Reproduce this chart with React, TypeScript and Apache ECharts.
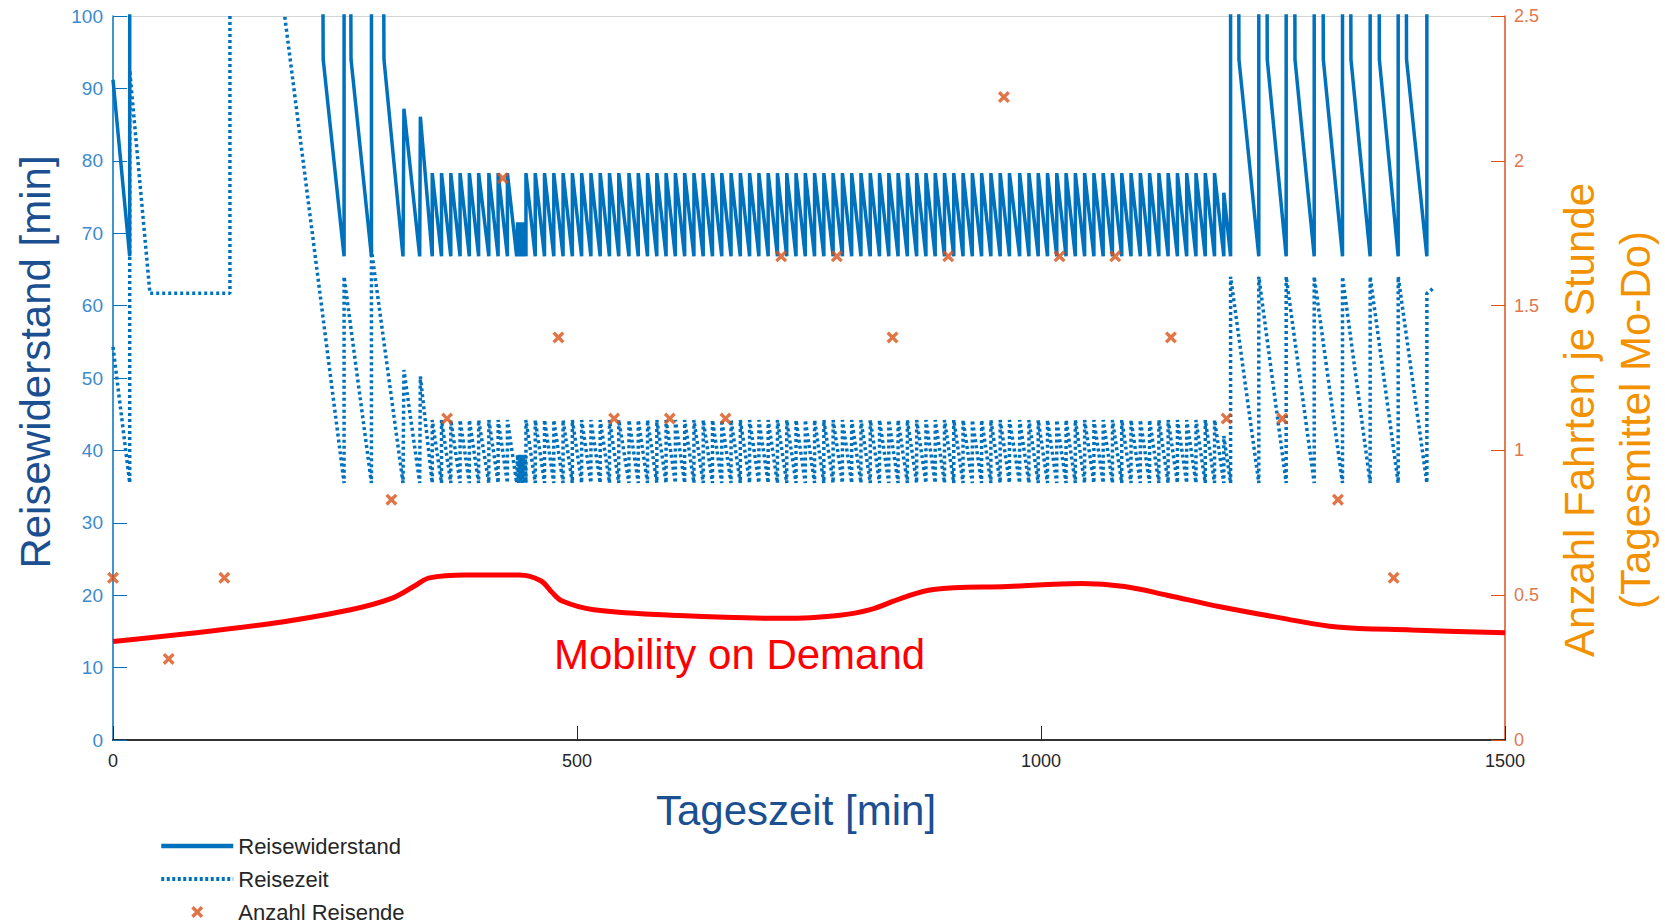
import React, { useEffect, useRef } from "react";
import * as echarts from "echarts";

// ---------- data ----------
// Reisewiderstand (solid) – irregular early part [min, value]
const resEarly: [number, number][] = [
  [0, 91.2], [18, 66.8], [18, 110], [226, 110], [226.5, 94], [249, 66.8],
  [249, 110], [256, 110], [256.5, 94], [278.5, 66.8], [278.5, 110], [291.5, 110],
  [292, 94], [312.5, 66.8], [313.5, 87.2], [330.5, 66.8], [331.2, 86.1], [344, 66.8],
];
// departure times of the regular 10-min service (teeth peaks), before and after the dense gap
const peaksA = [344, 354, 364, 374, 384, 394, 405, 415, 425];
const peaksB = [
  445, 455, 465, 475, 485, 495, 505, 515, 525, 535, 545,
  556, 566, 576, 586, 596, 606, 616, 626, 636, 646, 656, 666, 676, 686, 696,
  706, 716, 726, 736, 746, 756, 766, 776, 786, 796, 806, 816, 826, 836, 846,
  856, 866, 876, 886, 896, 906, 916, 926, 936, 946, 956, 966,
  977, 987, 997, 1007, 1017, 1027, 1037, 1047, 1057, 1067, 1077, 1087, 1097,
  1107, 1117, 1127, 1137, 1147, 1157, 1167, 1177, 1187,
];
const resPeak = 78.3;
const resLow = 66.8;
const resGap: [number, number][] = [
  [435, 66.8], [436, 71.5], [437, 66.8], [438, 71.5], [439, 66.8], [440, 71.5],
  [441, 66.8], [442, 71.5], [443, 66.8], [444, 71.5], [445, 66.8],
];
const resLate: [number, number][] = [
  [1197, 66.8], [1197, 75.6], [1204.3, 66.8], [1204.3, 110], [1213, 110], [1213.3, 94],
  [1234.7, 66.8], [1234.7, 110], [1243.5, 110], [1243.8, 94], [1264.2, 66.8],
  [1264.2, 110], [1273.4, 110], [1273.7, 94], [1294.4, 66.8], [1294.4, 110],
  [1303.9, 110], [1304.2, 94], [1324.9, 66.8], [1324.9, 110], [1333.7, 110],
  [1334, 94], [1354.7, 66.8], [1354.7, 110], [1364.3, 110], [1364.6, 94],
  [1384.9, 66.8], [1384.9, 110], [1393.6, 110], [1393.9, 94], [1415.8, 66.8],
  [1415.8, 110], [1425, 110],
];

// Reisezeit (dotted)
const timeEarly: [number, number][] = [
  [0, 54.3], [18, 35.5], [18, 92.5], [39.8, 61.7], [126, 61.7], [126, 150],
  [185, 100], [249, 35.5], [249, 64], [278.5, 35.5], [278.5, 67.7], [312.5, 35.5],
  [313.5, 51.1], [330.5, 35.5], [331.2, 50.2], [344, 35.5],
];
const timePeak = 44.2;
const timeLow = 35.5;
const timeGap: [number, number][] = [
  [435, 35.5], [436, 39.4], [437, 35.5], [438, 39.4], [439, 35.5], [440, 39.4],
  [441, 35.5], [442, 39.4], [443, 35.5], [444, 39.4], [445, 35.5],
];
const timeLate: [number, number][] = [
  [1197, 35.5], [1197, 42], [1204.3, 35.5], [1204.3, 64], [1234.7, 35.5],
  [1234.7, 64], [1264.2, 35.5], [1264.2, 64], [1294.4, 35.5], [1294.4, 64],
  [1324.9, 35.5], [1324.9, 64], [1354.7, 35.5], [1354.7, 64], [1384.9, 35.5],
  [1384.9, 64], [1415.8, 35.5], [1415.8, 61.7], [1422, 62.3],
];

// Anzahl Reisende (hourly, right axis)
const travHours = [0, 60, 120, 300, 360, 420, 480, 540, 600, 660, 720, 780, 840, 900, 960, 1020, 1080, 1140, 1200, 1260, 1320, 1380];
const travValues = [0.56, 0.28, 0.56, 0.83, 1.11, 1.94, 1.39, 1.11, 1.11, 1.11, 1.67, 1.67, 1.39, 1.67, 2.22, 1.67, 1.67, 1.39, 1.11, 1.11, 0.83, 0.56];

// Mobility on Demand curve (right axis)
const modTimes = [0, 165, 256, 301, 324, 341, 381, 438, 461, 473, 484, 518, 610, 724, 781, 816, 850, 884, 964, 1044, 1090, 1136, 1193, 1261, 1319, 1399, 1500];
const modValues = [0.34, 0.40, 0.45, 0.49, 0.53, 0.56, 0.57, 0.57, 0.55, 0.51, 0.48, 0.45, 0.43, 0.42, 0.43, 0.45, 0.49, 0.52, 0.53, 0.54, 0.53, 0.50, 0.46, 0.42, 0.39, 0.38, 0.37];

// ---------- helpers ----------
function teeth(peaks: number[], hi: number, lo: number, end: number): [number, number][] {
  const out: [number, number][] = [];
  peaks.forEach((t) => {
    out.push([t, lo]);
    out.push([t, hi]);
  });
  out.push([end, lo]);
  return out;
}

const FONT = "Liberation Sans, Arial, Helvetica, sans-serif";
const BLUE = "#0072BD";
const ORANGE = "#D95319";
const XPATH = "path://M2,0 L5,3 L8,0 L10,2 L7,5 L10,8 L8,10 L5,7 L2,10 L0,8 L3,5 L0,2 Z";

export default function App() {
  const ref = useRef<HTMLDivElement>(null);
  useEffect(() => {
    if (!ref.current) return;
    const chart = echarts.init(ref.current, undefined, { renderer: "svg" });

    const resData = [
      ...resEarly,
      ...teeth(peaksA, resPeak, resLow, 435),
      ...resGap,
      ...teeth(peaksB, resPeak, resLow, 1197),
      ...resLate,
    ];
    const timeData = [
      ...timeEarly,
      ...teeth(peaksA, timePeak, timeLow, 435),
      ...timeGap,
      ...teeth(peaksB, timePeak, timeLow, 1197),
      ...timeLate,
    ];
    const travData = travHours.map((h, i) => [h, travValues[i]]);
    const modData = modTimes.map((t, i) => [t, modValues[i]]);

    chart.setOption({
      animation: false,
      textStyle: { fontFamily: FONT },
      grid: { left: 113, right: 160, top: 16, bottom: 184, containLabel: false },
      xAxis: [
        {
          type: "value",
          min: 0,
          max: 1500,
          interval: 500,
          axisLine: { onZero: false, lineStyle: { color: "#333333", width: 2 } },
          axisTick: { inside: true, length: 14, lineStyle: { color: "#262626" } },
          axisLabel: {
            color: "#262626",
            fontSize: 18,
            margin: 12,
            fontFamily: FONT,
            formatter: (v: number) => String(v),
          },
          splitLine: { show: false },
        },
        {
          type: "value",
          position: "top",
          min: 0,
          max: 1500,
          axisLine: { show: true, onZero: false, lineStyle: { color: "#d4d4d4", width: 1 } },
          axisTick: { show: false },
          axisLabel: { show: false },
          splitLine: { show: false },
        },
      ],
      yAxis: [
        {
          type: "value",
          min: 0,
          max: 100,
          interval: 10,
          position: "left",
          axisLine: { show: true, onZero: false, lineStyle: { color: BLUE, width: 1.5 } },
          axisTick: { show: true, inside: true, length: 14, lineStyle: { color: BLUE } },
          axisLabel: { color: "#3D8BCD", fontSize: 19, margin: 10, fontFamily: FONT },
          splitLine: { show: false },
        },
        {
          type: "value",
          min: 0,
          max: 2.5,
          interval: 0.5,
          position: "right",
          axisLine: { show: true, onZero: false, lineStyle: { color: ORANGE, width: 1.5 } },
          axisTick: { show: true, inside: true, length: 14, lineStyle: { color: ORANGE } },
          axisLabel: { color: "#E0774F", fontSize: 18, margin: 9, fontFamily: FONT },
          splitLine: { show: false },
        },
      ],
      legend: {
        left: 159,
        top: 835,
        padding: 0,
        orient: "vertical",
        itemWidth: 72,
        itemHeight: 12,
        itemGap: 11,
        symbolKeepAspect: true,
        textStyle: { fontSize: 22, color: "#262626", lineHeight: 21, fontFamily: FONT },
        data: [
          { name: "Reisewiderstand", itemStyle: { opacity: 0 }, lineStyle: { width: 4.5 } },
          { name: "Reisezeit", itemStyle: { opacity: 0 }, lineStyle: { width: 4, type: [3, 2.5] } },
          { name: "Anzahl Reisende", icon: XPATH },
        ],
      },
      series: [
        {
          name: "Reisewiderstand",
          type: "line",
          data: resData,
          xAxisIndex: 0,
          yAxisIndex: 0,
          symbol: "none",
          showSymbol: false,
          clip: true,
          lineStyle: { color: BLUE, width: 3.5 },
          itemStyle: { color: BLUE },
          z: 2,
        },
        {
          name: "Reisezeit",
          type: "line",
          data: timeData,
          xAxisIndex: 0,
          yAxisIndex: 0,
          symbol: "none",
          showSymbol: false,
          clip: true,
          lineStyle: { color: BLUE, width: 3.5, type: [3, 3] },
          itemStyle: { color: BLUE },
          z: 2,
        },
        {
          name: "Mobility on Demand",
          type: "line",
          data: modData,
          xAxisIndex: 0,
          yAxisIndex: 1,
          symbol: "none",
          showSymbol: false,
          smooth: 0.35,
          lineStyle: { color: "#FF0000", width: 5 },
          itemStyle: { color: "#FF0000" },
          z: 3,
        },
        {
          name: "Anzahl Reisende",
          type: "scatter",
          data: travData,
          xAxisIndex: 0,
          yAxisIndex: 1,
          symbol: XPATH,
          symbolSize: 12,
          itemStyle: { color: ORANGE },
          z: 4,
        },
      ],
      graphic: [
        {
          type: "text",
          x: 35,
          y: 362,
          rotation: Math.PI / 2,
          style: { text: "Reisewiderstand [min]", fontSize: 42, fontFamily: FONT, fill: "#1B4F91", align: "center", verticalAlign: "middle" },
        },
        {
          type: "text",
          x: 796,
          y: 810,
          style: { text: "Tageszeit [min]", fontSize: 42, fontFamily: FONT, fill: "#1B4F91", align: "center", verticalAlign: "middle" },
        },
        {
          type: "text",
          x: 1579,
          y: 420,
          rotation: Math.PI / 2,
          style: { text: "Anzahl Fahrten je Stunde", fontSize: 42, fontFamily: FONT, fill: "#F39200", align: "center", verticalAlign: "middle" },
        },
        {
          type: "text",
          x: 1635,
          y: 420,
          rotation: Math.PI / 2,
          style: { text: "(Tagesmittel Mo-Do)", fontSize: 42, fontFamily: FONT, fill: "#F39200", align: "center", verticalAlign: "middle" },
        },
        {
          type: "text",
          x: 554,
          y: 654,
          style: { text: "Mobility on Demand", fontSize: 42, fontFamily: FONT, fill: "#FF0000", align: "left", verticalAlign: "middle" },
        },
      ],
    });
    return () => chart.dispose();
  }, []);
  return (
    <div
      ref={ref}
      style={{ position: "fixed", left: 0, top: 0, width: 1665, height: 924, background: "#ffffff" }}
    />
  );
}
